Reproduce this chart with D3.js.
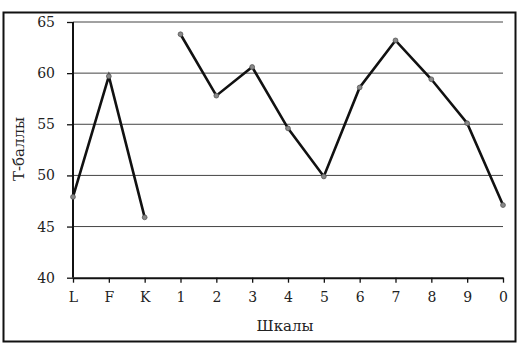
<!DOCTYPE html>
<html>
<head>
<meta charset="utf-8">
<script src="https://cdn.jsdelivr.net/npm/d3@7"></script>
<style>
  body { margin: 0; background: #fff; }
  text { font-family: "DejaVu Serif", "Liberation Serif", serif; fill: #222; }
</style>
</head>
<body>
<svg width="523" height="354"></svg>
<script>
// шкалы MMPI и Т-баллы
var scales = ["L", "F", "K", "1", "2", "3", "4", "5", "6", "7", "8", "9", "0"];
var tScores = [47.9, 59.7, 45.9, 63.8, 57.8, 60.6, 54.6, 49.9, 58.6, 63.2, 59.4, 55.1, 47.1];
// разрыв линии между K и 1
var groups = [0, 0, 0, 1, 1, 1, 1, 1, 1, 1, 1, 1, 1];
var yTicks = [40, 45, 50, 55, 60, 65];

var svg = d3.select("svg"),
    margin = {left: 73, right: 20, top: 22, bottom: 76},
    width = +svg.attr("width"),
    height = +svg.attr("height");

var data = scales.map(function (s, i) {
    return {scale: s, value: tScores[i], group: groups[i]};
});

var x = d3.scalePoint()
    .domain(scales)
    .range([margin.left, 503]);

var y = d3.scaleLinear()
    .domain([40, 65])
    .range([277.7, margin.top]);

// outer frame
svg.append("rect")
    .attr("x", 3.5).attr("y", 12.5)
    .attr("width", 512).attr("height", 329)
    .attr("fill", "none")
    .attr("stroke", "#111")
    .attr("stroke-width", 2);

// gridlines
svg.append("g")
    .selectAll("line")
    .data(yTicks.slice(1))
    .enter().append("line")
    .attr("x1", margin.left)
    .attr("x2", 503)
    .attr("y1", function (d) { return y(d); })
    .attr("y2", function (d) { return y(d); })
    .attr("stroke", "#444")
    .attr("stroke-width", 1);

var yAxis = svg.append("g")
    .attr("transform", "translate(" + margin.left + ",0)")
    .call(d3.axisLeft(y).tickValues(yTicks).tickSize(6).tickPadding(12));

var xAxis = svg.append("g")
    .attr("transform", "translate(0," + y(40) + ")")
    .call(d3.axisBottom(x).tickSize(5).tickPadding(9).tickSizeOuter(0));

[yAxis, xAxis].forEach(function (a) {
    a.select(".domain").attr("stroke", "#111").attr("stroke-width", 2);
    a.selectAll(".tick line").attr("stroke", "#111").attr("stroke-width", 1.3);
    a.selectAll(".tick text")
        .style("font-family", "'DejaVu Serif', serif")
        .style("font-size", "14px")
        .attr("fill", "#222");
});
yAxis.select(".domain").attr("d", "M0," + y(40) + "V" + y(65));

var line = d3.line()
    .x(function (d) { return x(d.scale); })
    .y(function (d) { return y(d.value); });

svg.append("g")
    .selectAll("path")
    .data(d3.groups(data, function (d) { return d.group; }))
    .enter().append("path")
    .attr("d", function (d) { return line(d[1]); })
    .attr("fill", "none")
    .attr("stroke", "#111")
    .attr("stroke-width", 2.6)
    .attr("stroke-linejoin", "miter");

svg.append("g")
    .selectAll("circle")
    .data(data)
    .enter().append("circle")
    .attr("cx", function (d) { return x(d.scale); })
    .attr("cy", function (d) { return y(d.value); })
    .attr("r", 2.4)
    .attr("fill", "#888")
    .attr("stroke", "#555")
    .attr("stroke-width", 0.8);

svg.append("text")
    .attr("transform", "translate(24,149) rotate(-90)")
    .attr("text-anchor", "middle")
    .style("font-size", "15px")
    .text("Т-баллы");

svg.append("text")
    .attr("x", 285)
    .attr("y", 331)
    .attr("text-anchor", "middle")
    .style("font-size", "15px")
    .text("Шкалы");
</script>
</body>
</html>
